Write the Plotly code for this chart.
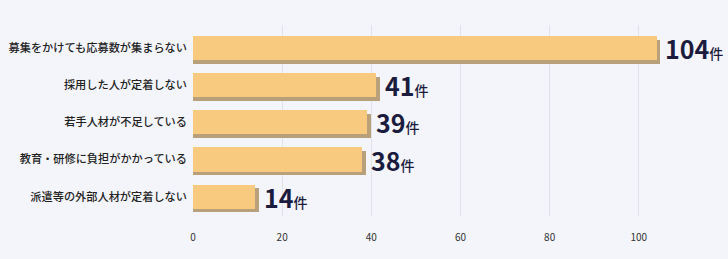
import plotly.graph_objects as go

categories = ["募集をかけても応募数が集まらない", "採用した人が定着しない", "若手人材が不足している",
              "教育・研修に負担がかかっている", "派遣等の外部人材が定着しない"]
values = [104, 41, 39, 38, 14]
unit = "件"
tick_vals = [0, 20, 40, 60, 80, 100]

BAR_W = 0.65
DX = 0.85
DY = 0.1
FONT = "Noto Sans CJK JP"

fig = go.Figure()
fig.add_trace(go.Bar(
    y=categories, x=[v + DX for v in values], orientation="h",
    marker=dict(color="#b8a07b", line=dict(width=0)),
    width=BAR_W, offset=-BAR_W / 2 + DY, hoverinfo="skip", showlegend=False,
))
fig.add_trace(go.Bar(
    y=categories, x=values, orientation="h",
    marker=dict(color="#f7ca7f", line=dict(width=0)),
    width=BAR_W, offset=-BAR_W / 2, showlegend=False,
))

for c, v in zip(categories, values):
    fig.add_annotation(
        x=v + DX, y=c, xref="x", yref="y", xanchor="left", yanchor="middle",
        xshift=3, yshift=0, showarrow=False,
        text=f"<b>{v}</b><span style='font-size:14px;font-weight:500'>{unit}</span>",
        font=dict(family=FONT, size=25, color="#1b1c3d"),
    )

fig.update_layout(
    width=728, height=259,
    margin=dict(l=193, r=0, t=25, b=43),
    paper_bgcolor="#f4f5fa", plot_bgcolor="#f4f5fa",
    barmode="overlay", bargap=0,
    font=dict(family=FONT, color="#333333"),
    xaxis=dict(range=[0, 120], tickvals=tick_vals, showgrid=True, gridcolor="#e2e3ea",
               gridwidth=1, zeroline=False, showline=False, ticks="",
               tickfont=dict(size=10, color="#333333"), ticklabelstandoff=14),
    yaxis=dict(range=[4.52, -0.62], showgrid=False, zeroline=False, showline=False,
               ticks="", tickfont=dict(size=11.2, color="#222222", weight=500),
               ticklabelstandoff=5),
)

fig.write_html("out.html")
